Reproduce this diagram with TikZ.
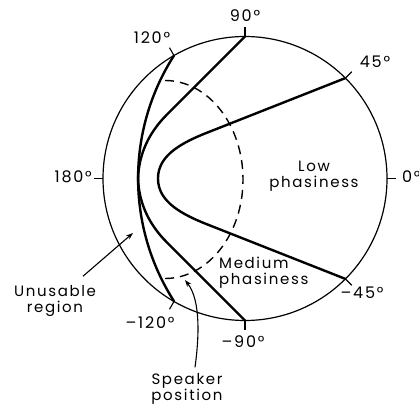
\documentclass[tikz,border=0pt]{standalone}
\usepackage{fontspec}
\setmainfont{Poppins}[LetterSpace=11]
\usetikzlibrary{arrows.meta}

\begin{document}
\begin{tikzpicture}[x=1pt,y=1pt,
  curve/.style={line width=2.4pt,line join=round},
  tick/.style={line width=1.1pt},
  lab/.style={font=\fontsize{16}{18}\selectfont,inner sep=1pt},
  txt/.style={font=\fontsize{15}{16}\selectfont,inner sep=1pt},
  arr/.style={line width=1.1pt,-{Stealth[length=7pt,width=5pt]}}]
\useasboundingbox (-245,-230.5) rectangle (174,178.5);
\draw[line width=1.2pt] (0,0) circle (142);
\foreach \a in {0,45,90,120,180,-45,-90,-120}
  \draw[tick] (\a:142) -- (\a:151);
\draw[curve] (120:142) arc[start angle=147.4,end angle=212.6,radius=228];
\draw[curve] (90:142) -- (-78,64) .. controls (-96,46) and (-106,25) .. (-107,0)
  .. controls (-106,-25) and (-96,-46) .. (-78,-64) -- (-90:142);
\draw[curve] (45:142) -- (-40,45) .. controls (-70,33) and (-87,20) .. (-87,0)
  .. controls (-87,-20) and (-70,-33) .. (-40,-45) -- (-45:142);
\draw[line width=1.4pt,dash pattern=on 9pt off 6pt] (-80,98) arc[start angle=90,end angle=-90,x radius=78,y radius=99];
\node[lab] (l90) at (0,162.5) {90°};
\node[lab] (l120) at (-93,140.5) {120°};
\node[lab] (l45) at (130,116.5) {45°};
\node[lab,anchor=east] (l180) at (-152,1.5) {180°};
\node[lab,anchor=west] (l0) at (156,1.5) {0°};
\node[lab] (lm45) at (117,-114.5) {–45°};
\node[lab] (lm120) at (-95,-144.5) {–120°};
\node[lab] (lm90) at (-2,-163.5) {–90°};
\node[txt,align=center] (low) at (69,2.5) {Low\\phasiness};
\node[txt,align=left,anchor=west] (medium) at (-27,-94.5) {Medium\\phasiness};
\node[txt,align=center] (unusable) at (-190,-122.5) {Unusable\\region};
\node[txt,align=center] (speaker) at (-58,-210.5) {Speaker\\position};
\coordinate (unusabletip) at (-112,-54.5);
\coordinate (speakertip) at (-60,-101.5);
\draw[arr] ([xshift=28pt,yshift=8pt]unusable.north) -- (unusabletip);
\draw[arr] ([xshift=8pt,yshift=5pt]speaker.north) .. controls (-46,-160) and (-44,-122) .. (speakertip);
\end{tikzpicture}
\end{document}
